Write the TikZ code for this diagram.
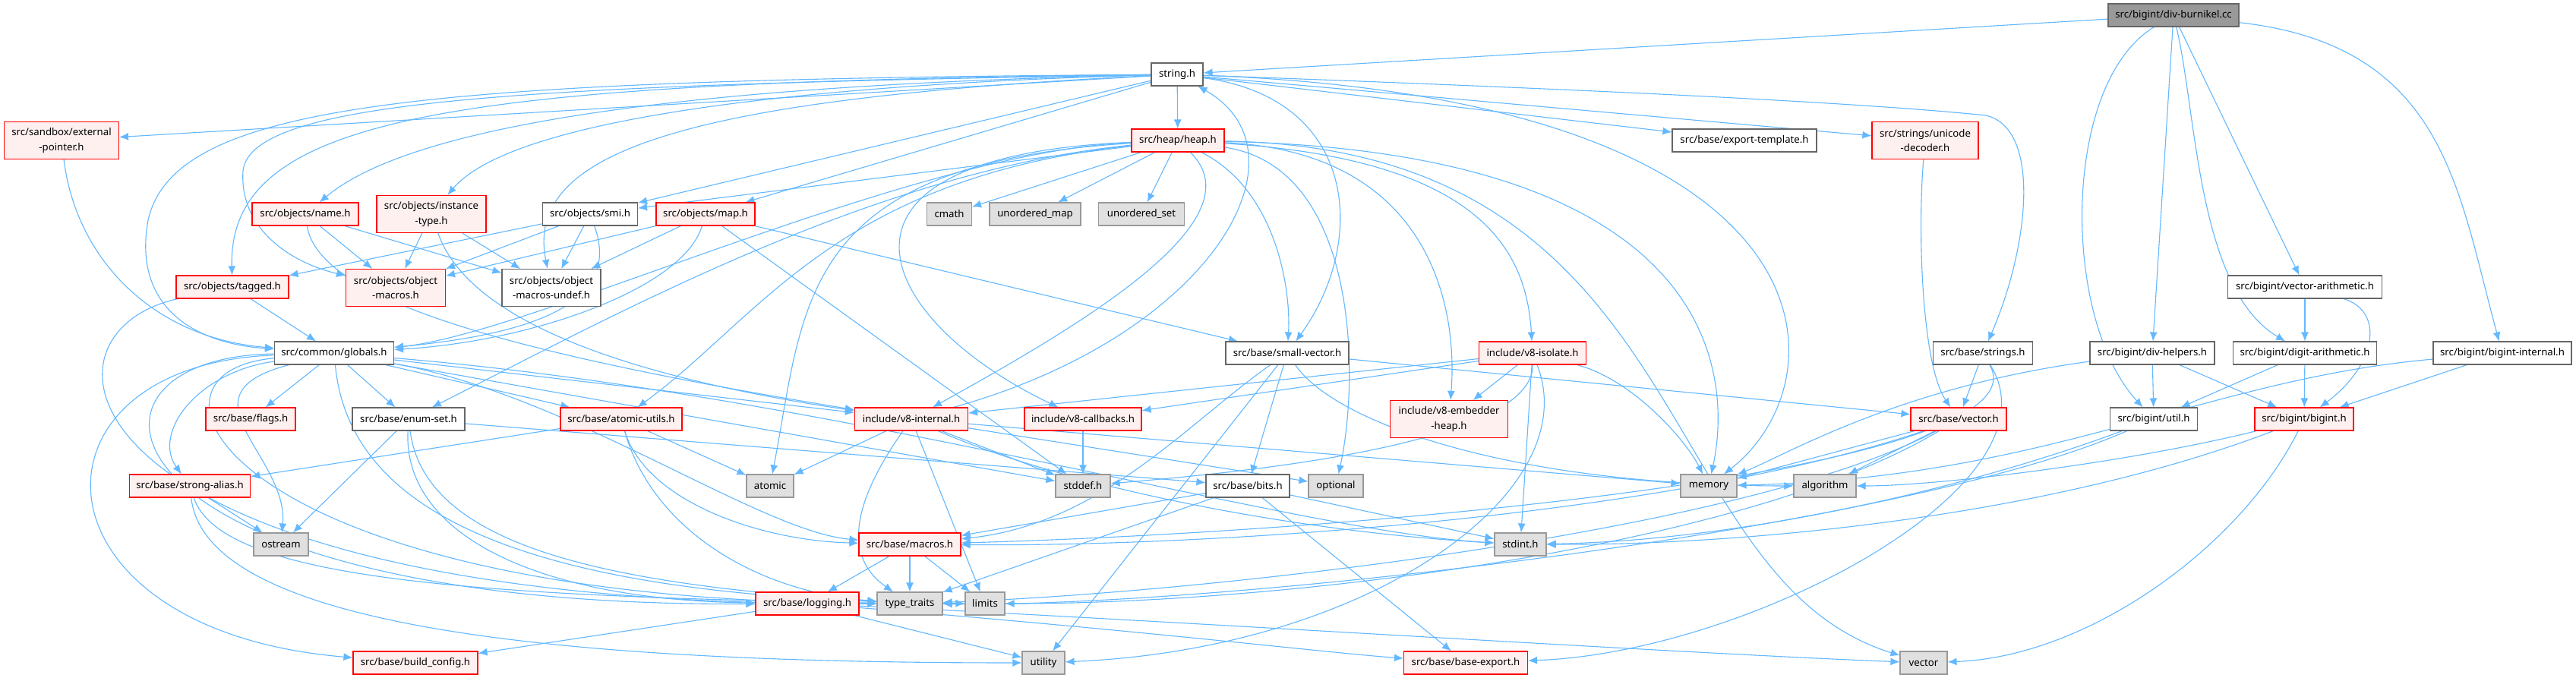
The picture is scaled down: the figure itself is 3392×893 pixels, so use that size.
\documentclass[tikz,border=0pt]{standalone}
\usepackage{fontspec}
\setmainfont{Noto Sans}
\usetikzlibrary{arrows.meta,backgrounds}
\definecolor{edgec}{HTML}{63B8FF}
\definecolor{redb}{HTML}{FF0000}
\definecolor{redf}{HTML}{FFF0F0}
\definecolor{grayb}{HTML}{666666}
\definecolor{lgrayb}{HTML}{999999}
\definecolor{lgrayf}{HTML}{E0E0E0}
\definecolor{rootf}{HTML}{999999}
\tikzset{
  base/.style={inner sep=0pt, minimum height=30pt, line width=1.1pt, align=center,
    font=\fontsize{13.2pt}{19.3pt}\selectfont},
  tall/.style={minimum height=49pt},
  nbox/.style={base, draw=grayb, fill=white},
  rbox/.style={base, draw=redb, fill=redf},
  gbox/.style={base, draw=lgrayb, fill=lgrayf},
  rootbox/.style={base, draw=grayb, fill=rootf},
  e/.style={draw=edgec, line width=1.1pt, -{Latex[length=12pt,width=10pt]}}
}
\begin{document}
\begin{tikzpicture}[x=1pt,y=1pt]
\path[use as bounding box] (0,0) rectangle (3392,-893);
% nodes
\node[rootbox, minimum width=172pt] (burn) at (2862,-20) {src/bigint/div-burnikel.cc};
\node[nbox, minimum width=68pt] (strh) at (1550,-98) {string.h};
\node[rbox, tall, minimum width=151pt] (sandbox) at (81,-185) {src/sandbox/external\\-pointer.h};
\node[rbox, minimum width=140pt] (name) at (402,-282) {src/objects/name.h};
\node[rbox, tall, minimum width=144pt] (itype) at (568,-282) {src/objects/instance\\-type.h};
\node[nbox, minimum width=125pt] (smi) at (777,-282) {src/objects/smi.h};
\node[rbox, minimum width=148pt] (tagged) at (306,-378) {src/objects/tagged.h};
\node[rbox, tall, minimum width=131pt] (omac) at (521,-379) {src/objects/object\\-macros.h};
\node[nbox, tall, minimum width=130pt] (omacu) at (726,-379) {src/objects/object\\-macros-undef.h};
\node[rbox, minimum width=122pt] (heap) at (1551,-185) {src/heap/heap.h};
\node[rbox, minimum width=130pt] (map) at (929,-282) {src/objects/map.h};
\node[gbox, minimum width=59pt] (cmath) at (1250,-282) {cmath};
\node[gbox, minimum width=120pt] (umap) at (1363,-282) {unordered\_map};
\node[gbox, minimum width=113pt] (uset) at (1503,-282) {unordered\_set};
\node[nbox, minimum width=190pt] (exptpl) at (2297,-185) {src/base/export-template.h};
\node[rbox, tall, minimum width=140pt] (udec) at (2535,-185) {src/strings/unicode\\-decoder.h};
\node[nbox, minimum width=203pt] (varith) at (3035,-378) {src/bigint/vector-arithmetic.h};
\node[nbox, minimum width=157pt] (globals) at (440,-465) {src/common/globals.h};
\node[rbox, minimum width=118pt] (flags) at (330,-552) {src/base/flags.h};
\node[nbox, minimum width=148pt] (enumset) at (538,-552) {src/base/enum-set.h};
\node[rbox, minimum width=160pt] (atomicu) at (818,-552) {src/base/atomic-utils.h};
\node[rbox, minimum width=159pt] (stralias) at (250,-640) {src/base/strong-alias.h};
\node[gbox, minimum width=72pt] (ostream) at (370,-717) {ostream};
\node[rbox, minimum width=164pt] (bconf) at (547,-873) {src/base/build\_config.h};
\node[rbox, minimum width=149pt] (v8int) at (1200,-552) {include/v8-internal.h};
\node[rbox, minimum width=154pt] (v8cb) at (1426,-552) {include/v8-callbacks.h};
\node[gbox, minimum width=62pt] (atomic) at (1014,-640) {atomic};
\node[gbox, minimum width=72pt] (stddef) at (1426,-640) {stddef.h};
\node[nbox, minimum width=110pt] (bits) at (1643,-640) {src/base/bits.h};
\node[nbox, minimum width=162pt] (svec) at (1695,-465) {src/base/small-vector.h};
\node[rbox, minimum width=134pt] (macros) at (1198,-717) {src/base/macros.h};
\node[rbox, minimum width=136pt] (logging) at (1063,-795) {src/base/logging.h};
\node[gbox, minimum width=86pt] (ttraits) at (1198,-795) {type\_traits};
\node[gbox, minimum width=52pt] (limits) at (1297,-795) {limits};
\node[gbox, minimum width=56pt] (utility) at (1374,-873) {utility};
\node[rbox, minimum width=141pt] (v8iso) at (2018,-465) {include/v8-isolate.h};
\node[rbox, tall, minimum width=155pt] (v8emb) at (1908,-552) {include/v8-embedder\\-heap.h};
\node[gbox, minimum width=72pt] (optional) at (1759,-640) {optional};
\node[gbox, minimum width=74pt] (memory) at (2250,-640) {memory};
\node[gbox, minimum width=82pt] (algorithm) at (2403,-640) {algorithm};
\node[gbox, minimum width=68pt] (stdint) at (2002,-717) {stdint.h};
\node[rbox, minimum width=163pt] (bexport) at (1930,-873) {src/base/base-export.h};
\node[gbox, minimum width=62pt] (vector) at (2533,-873) {vector};
\node[rbox, minimum width=126pt] (bvector) at (2579,-552) {src/base/vector.h};
\node[nbox, minimum width=131pt] (bstrings) at (2611,-465) {src/base/strings.h};
\node[nbox, minimum width=164pt] (divh) at (2834,-465) {src/bigint/div-helpers.h};
\node[nbox, minimum width=189pt] (digit) at (3035,-465) {src/bigint/digit-arithmetic.h};
\node[nbox, minimum width=182pt] (bigintint) at (3295,-465) {src/bigint/bigint-internal.h};
\node[nbox, minimum width=115pt] (butil) at (2836,-552) {src/bigint/util.h};
\node[rbox, minimum width=130pt] (bigint) at (3034,-552) {src/bigint/bigint.h};
% edges
\begin{pgfonlayer}{background}
\fill[white] (0,0) rectangle (3392,-893);
\coordinate (bsbend) at (2615,-152);
\coordinate (glbend) at (195,-290);
\coordinate (ombend) at (320,-225);
% div-burnikel
\draw[e] (burn) -- (strh);
\draw[e] (burn) .. controls (2714,-110) and (2714,-420) .. (butil);
\draw[e] (burn) -- (divh);
\draw[e] (burn) .. controls (2893,-150) and (2893,-380) .. (digit);
\draw[e] (burn) -- (varith);
\draw[e] (burn) .. controls (3220,-60) and (3236,-250) .. (bigintint);
% string.h
\draw[e] (strh) -- (heap);
\draw[e] (strh) -- (sandbox);
\draw[e] (strh) .. controls (1000,-110) and (560,-150) .. (name);
\draw[e] (strh) .. controls (1100,-110) and (680,-150) .. (itype);
\draw[e] (strh) -- (smi);
\draw[e] (strh) -- (map);
\draw[e] (strh) .. controls (600,-108) and (300,-150) .. (tagged);
\draw[e] (strh) .. controls (700,-112) and (330,-130) .. (ombend) .. controls (315,-300) and (380,-345) .. (omac);
\draw[e] (strh) .. controls (900,-130) and (690,-200) .. (omacu);
\draw[e] (strh) .. controls (550,-105) and (230,-135) .. (glbend) .. controls (175,-400) and (250,-452) .. (globals);
\draw[e] (strh) -- (exptpl);
\draw[e] (strh) -- (udec);
\draw[e] (strh) .. controls (2100,-118) and (2450,-135) .. (bsbend) .. controls (2690,-170) and (2670,-330) .. (bstrings);
\draw[e] (strh) .. controls (1790,-130) and (1800,-320) .. (svec);
\draw[e] (strh) .. controls (2430,-130) and (2430,-500) .. (memory);
% heap.h
\draw[e] (heap) -- (cmath);
\draw[e] (heap) -- (umap);
\draw[e] (heap) -- (uset);
\draw[e] (heap) -- (smi);
\draw[e] (heap) .. controls (1200,-200) and (700,-440) .. (globals);
\draw[e] (heap) .. controls (1100,-235) and (1000,-420) .. (atomicu);
\draw[e] (heap) .. controls (1150,-225) and (800,-420) .. (enumset);
\draw[e] (heap) .. controls (1660,-290) and (1420,-430) .. (v8int);
\draw[e] (heap) .. controls (1050,-205) and (1150,-420) .. (v8cb);
\draw[e] (heap) .. controls (1680,-250) and (1700,-380) .. (svec);
\draw[e] (heap) .. controls (1950,-210) and (2010,-330) .. (v8iso);
\draw[e] (heap) .. controls (1880,-200) and (1920,-400) .. (v8emb);
\draw[e] (heap) .. controls (1790,-220) and (1790,-500) .. (optional);
\draw[e] (heap) .. controls (2270,-200) and (2280,-500) .. (memory);
\draw[e] (heap) .. controls (2240,-195) and (2170,-760) .. (vector);
\draw[e] (heap) .. controls (1050,-215) and (1060,-400) .. (atomic);
% objects
\draw[e] (name) -- (omac);
\draw[e] (name) -- (omacu);
\draw[e] (name) .. controls (420,-400) and (700,-470) .. (v8int);
\draw[e] (itype) -- (omac);
\draw[e] (itype) -- (omacu);
\draw[e] (itype) .. controls (620,-430) and (850,-500) .. (v8int);
\draw[e] (smi) -- (tagged);
\draw[e] (smi) -- (omac);
\draw[e] (smi) -- (omacu);
\draw[e] (smi) .. controls (820,-400) and (700,-440) .. (globals);
\draw[e] (tagged) -- (globals);
\draw[e] (tagged) .. controls (20,-440) and (80,-800) .. (ttraits);
\draw[e] (sandbox) .. controls (100,-340) and (200,-445) .. (globals);
\draw[e] (map) -- (omac);
\draw[e] (map) -- (omacu);
\draw[e] (map) .. controls (900,-380) and (700,-450) .. (globals);
\draw[e] (map) -- (svec);
\draw[e] (map) -- (stddef);
% globals.h
\draw[e] (globals) -- (flags);
\draw[e] (globals) -- (enumset);
\draw[e] (globals) -- (atomicu);
\draw[e] (globals) .. controls (260,-490) and (200,-570) .. (stralias);
\draw[e] (globals) .. controls (230,-520) and (380,-600) .. (ostream);
\draw[e] (globals) .. controls (20,-480) and (30,-830) .. (bconf);
\draw[e] (globals) .. controls (60,-470) and (120,-800) .. (logging);
\draw[e] (globals) .. controls (150,-490) and (300,-790) .. (ttraits);
\draw[e] (globals) .. controls (460,-680) and (700,-790) .. (limits);
\draw[e] (globals) -- (v8int);
\draw[e] (globals) .. controls (750,-520) and (1000,-700) .. (macros);
\draw[e] (globals) -- (stddef);
\draw[e] (globals) .. controls (1100,-520) and (1700,-700) .. (stdint);
% base
\draw[e] (atomicu) -- (atomic);
\draw[e] (atomicu) -- (stralias);
\draw[e] (atomicu) .. controls (850,-660) and (1000,-712) .. (macros);
\draw[e] (atomicu) .. controls (860,-700) and (1000,-780) .. (ttraits);
\draw[e] (enumset) -- (ostream);
\draw[e] (enumset) -- (bits);
\draw[e] (enumset) .. controls (530,-700) and (700,-790) .. (logging);
\draw[e] (enumset) .. controls (560,-720) and (800,-770) .. (ttraits);
\draw[e] (stralias) -- (ostream);
\draw[e] (stralias) .. controls (290,-760) and (600,-785) .. (ttraits);
\draw[e] (stralias) .. controls (270,-820) and (700,-873) .. (utility);
% v8-internal
\draw[e] (v8int) -- (atomic);
\draw[e] (v8int) .. controls (1110,-680) and (1120,-740) .. (ttraits);
\draw[e] (v8int) -- (limits);
\draw[e] (v8int) -- (stddef);
\draw[e] (v8int) .. controls (1400,-640) and (1700,-700) .. (stdint);
\draw[e] (v8int) -- (memory);
\draw[e] (v8int) -- (optional);
\draw[e] (v8int) .. controls (1600,-440) and (1730,-200) .. (strh);
\draw[e] (v8cb) -- (stddef);
% bits, small-vector, vector
\draw[e] (bits) -- (macros);
\draw[e] (bits) -- (ttraits);
\draw[e] (bits) -- (stdint);
\draw[e] (bits) -- (bexport);
\draw[e] (svec) -- (bits);
\draw[e] (svec) -- (utility);
\draw[e] (svec) .. controls (1560,-560) and (1450,-690) .. (macros);
\draw[e] (svec) -- (bvector);
\draw[e] (svec) .. controls (1760,-560) and (2000,-640) .. (algorithm);
\draw[e] (bvector) -- (memory);
\draw[e] (bvector) -- (algorithm);
\draw[e] (bvector) .. controls (2300,-720) and (1700,-795) .. (limits);
\draw[e] (bvector) .. controls (2300,-700) and (1600,-780) .. (ttraits);
\draw[e] (bvector) .. controls (2200,-680) and (1600,-720) .. (macros);
\draw[e] (bstrings) -- (bvector);
\draw[e] (bstrings) .. controls (2700,-620) and (1800,-700) .. (macros);
\draw[e] (bstrings) .. controls (2720,-640) and (2300,-860) .. (bexport);
\draw[e] (udec) .. controls (2525,-300) and (2530,-480) .. (bvector);
% bigint
\draw[e] (divh) -- (butil);
\draw[e] (divh) -- (bigint);
\draw[e] (divh) .. controls (2500,-510) and (2350,-600) .. (memory);
\draw[e] (digit) -- (butil);
\draw[e] (digit) -- (bigint);
\draw[e] (bigintint) -- (bigint);
\draw[e] (bigintint) .. controls (2900,-500) and (2700,-630) .. (memory);
\draw[e] (varith) -- (digit);
\draw[e] (varith) .. controls (3140,-410) and (3130,-480) .. (bigint);
\draw[e] (butil) .. controls (2600,-640) and (2300,-712) .. (stdint);
\draw[e] (butil) .. controls (2500,-700) and (1600,-800) .. (ttraits);
\draw[e] (bigint) .. controls (2950,-720) and (2750,-865) .. (vector);
\draw[e] (bigint) .. controls (2800,-610) and (2550,-640) .. (algorithm);
\draw[e] (bigint) .. controls (2700,-680) and (2300,-718) .. (stdint);
% macros, logging
\draw[e] (macros) -- (logging);
\draw[e] (macros) -- (ttraits);
\draw[e] (macros) -- (limits);
\draw[e] (logging) -- (bconf);
\draw[e] (logging) -- (utility);
\draw[e] (logging) .. controls (1500,-830) and (1750,-860) .. (bexport);
\draw[e] (logging) .. controls (1500,-815) and (2200,-860) .. (vector);
% v8-isolate
\draw[e] (v8iso) -- (v8emb);
\draw[e] (v8iso) -- (v8int);
\draw[e] (v8iso) -- (v8cb);
\draw[e] (v8iso) -- (stdint);
\draw[e] (v8iso) .. controls (2150,-500) and (2220,-580) .. (memory);
\draw[e] (v8iso) .. controls (2090,-650) and (1800,-855) .. (utility);
\draw[e] (v8iso) .. controls (2020,-590) and (1600,-625) .. (stddef);
\end{pgfonlayer}
\end{tikzpicture}
\end{document}
